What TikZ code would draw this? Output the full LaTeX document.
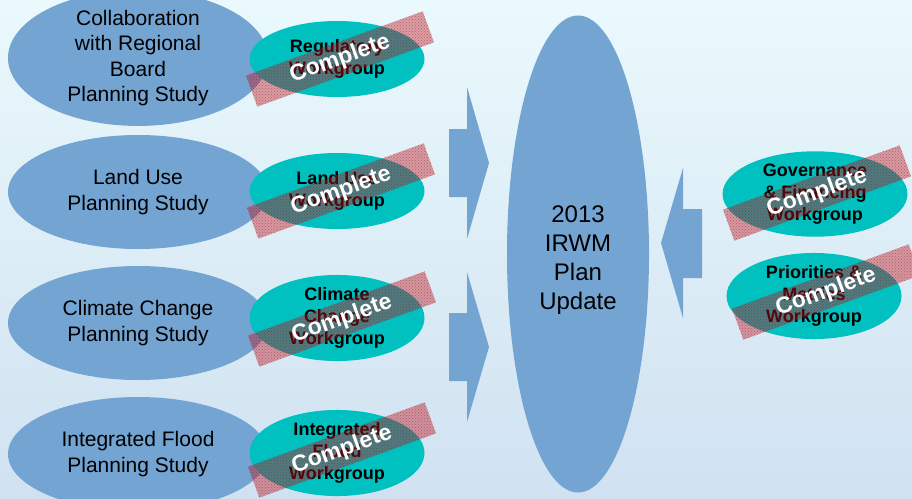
\documentclass[tikz,border=0pt]{standalone}
\usepackage{fontspec}
\setmainfont{Liberation Sans}
\usetikzlibrary{shapes.geometric,patterns}
\definecolor{studyblue}{RGB}{116,164,210}
\definecolor{groupteal}{RGB}{0,192,192}
\definecolor{bgtop}{RGB}{234,249,252}
\definecolor{bgbottom}{RGB}{208,225,241}
\definecolor{hatchred}{RGB}{200,20,30}

\begin{document}
\begin{tikzpicture}[x=1pt,y=-1pt,
	study/.style={ellipse,fill=studyblue,minimum width=260,minimum height=114,inner sep=0pt,align=center,font=\fontsize{21}{25.5}\selectfont},
	group/.style={ellipse,fill=groupteal,minimum width=175,minimum height=76,inner sep=0pt,align=center,font=\bfseries\fontsize{18}{22}\selectfont},
	done/.style={rotate=20,minimum width=188,minimum height=33,inner sep=0pt,fill=hatchred,fill opacity=0.4,text opacity=1,text=white,font=\bfseries\fontsize{23}{23}\selectfont,postaction={pattern=crosshatch dots,pattern color=hatchred!60!black}},
	bigarrow/.style={fill=studyblue}]
		\useasboundingbox (0,0) rectangle (912,498);
		\clip (0,0) rectangle (912,498);
		\shade[top color=bgtop,bottom color=bgbottom] (0,0) rectangle (912,498);
		% planning studies
		\node[study] (collab) at (138,58) {Collaboration\\with Regional\\Board\\Planning Study};
		\node[study] (landuse) at (138,192) {Land Use\\Planning Study};
		\node[study] (climate) at (138,323) {Climate Change\\Planning Study};
		\node[study] (flood) at (138,454) {Integrated Flood\\Planning Study};
		% block arrows
		\fill[bigarrow] (449,129) -- (467,129) -- (467,87) -- (489,163) -- (467,239) -- (467,197) -- (449,197) -- cycle;
		\fill[bigarrow] (449,313) -- (467,313) -- (467,272) -- (489,347) -- (467,422) -- (467,381) -- (449,381) -- cycle;
		\fill[bigarrow] (702,209) -- (683,209) -- (683,168) -- (661,243) -- (683,318) -- (683,278) -- (702,278) -- cycle;
		\node[ellipse,fill=studyblue,minimum width=142,minimum height=477,inner sep=0pt] (plan) at (578,254) {};
		\node[align=center,font=\fontsize{24}{29}\selectfont] (plantext) at (578,260) {2013\\IRWM\\Plan\\Update};
		% workgroups
		\node[group] (regwg) at (337,59) {Regulatory\\Workgroup};
		\node[group] (luwg) at (337,191) {Land Use\\Workgroup};
		\node[group] (ccwg) at (337,318) {Climate\\Change\\Workgroup};
		\node[group] (ifwg) at (337,453) {Integrated\\Flood\\Workgroup};
		\node[group,minimum width=185,minimum height=80] (govwg) at (815,194) {Governance\\\& Financing\\Workgroup};
		\node[group,minimum width=175,minimum height=80] (priwg) at (814,296) {Priorities \&\\Metrics\\Workgroup};
		% complete stamps
		\node[done] (regdone) at (340,59) {Complete};
		\node[done] (ludone) at (341,191) {Complete};
		\node[done] (ccdone) at (342,319) {Complete};
		\node[done] (ifdone) at (342,450) {Complete};
		\node[done] (govdone) at (817,193) {Complete};
		\node[done] (pridone) at (826,292) {Complete};
	\end{tikzpicture}
\end{document}
